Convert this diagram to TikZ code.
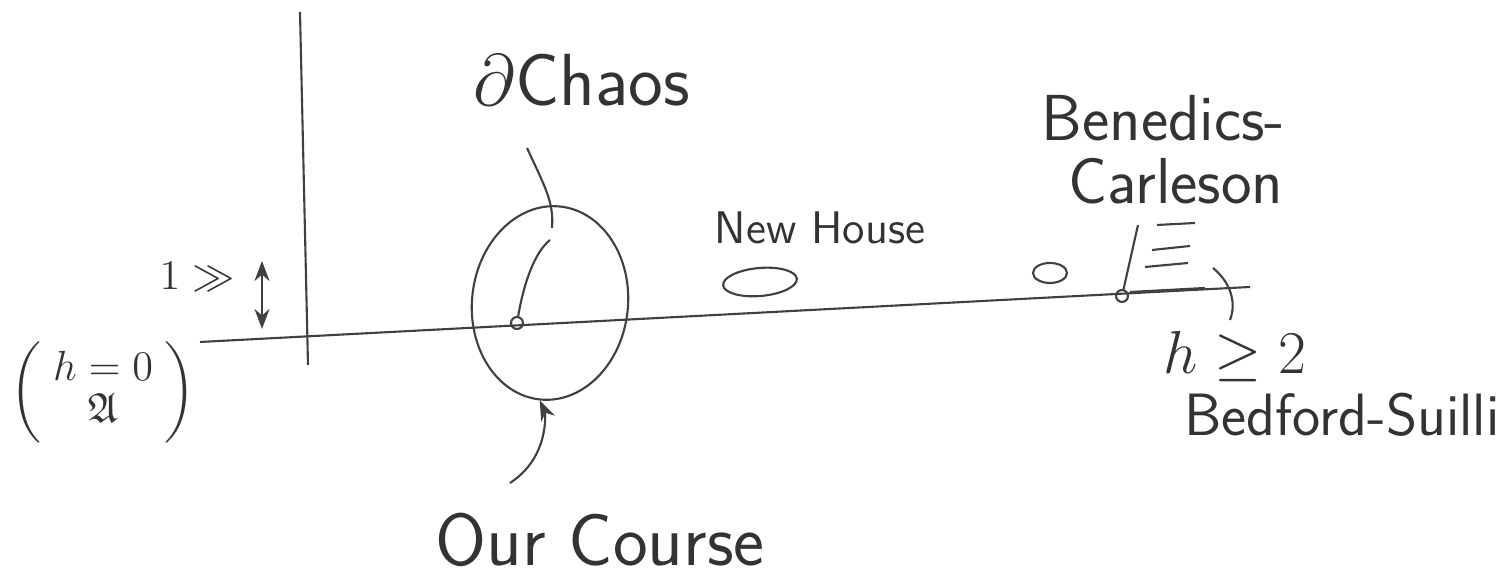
\documentclass[tikz,border=0pt]{standalone}
\usepackage{amsmath,amssymb}
\usetikzlibrary{arrows.meta,shapes.geometric}

\begin{document}
\begin{tikzpicture}[x=1cm,y=1cm,>=Stealth,
  pen/.style={line width=0.6pt,black!75},
  every node/.append style={font=\sffamily,text=black!80}]
  \useasboundingbox (0,0) rectangle (15.09,5.87);
  % axes
  \coordinate (vtop) at (3.00,5.75);
  \coordinate (vbot) at (3.08,2.22);
  \draw[pen] (vtop) -- (vbot);
  \coordinate (hleft) at (2.00,2.45);
  \coordinate (hright) at (12.50,3.00);
  \draw[pen] (hleft) -- (hright);

  \node[inner sep=0pt] (scaleLbl) at (1.97,3.10) {\large$1\gg$};
  \coordinate (scaleTop) at (2.62,3.26);
  \coordinate (scaleBot) at (2.62,2.58);
  \draw[pen,<->] (scaleTop) -- (scaleBot);

  \node[inner sep=0pt] (baseLbl) at (1.03,1.95) {\large$\left(\begin{matrix}\;h=0\;\\[-2pt] \mathfrak{A}\end{matrix}\right)$};

  % the chaos boundary
  \node (chaosLbl) at (5.82,5.07) {\fontsize{21}{25}\selectfont$\partial$Chaos};
  \node[pen,draw,ellipse,minimum width=1.56cm,minimum height=1.94cm,rotate=-6,inner sep=0pt] (boundary) at (5.50,2.84) {};
  \coordinate (chaosTail) at (5.27,4.39);
  \coordinate (chaosTip) at (5.52,3.59);
  \draw[pen] (chaosTail) .. controls (5.45,4.00) and (5.54,3.85) .. (chaosTip);

  \node[pen,draw,circle,inner sep=1.2pt] (origin) at (5.17,2.64) {};
  \coordinate (originTop) at (5.50,3.47);
  \draw[pen] (origin) .. controls (5.24,3.05) and (5.35,3.35) .. (originTop);

  % our course
  \node (courseLbl) at (6.00,0.47) {\fontsize{21}{25}\selectfont Our Course};
  \coordinate (courseTail) at (5.10,1.04);
  \draw[pen,->] (courseTail) .. controls (5.50,1.30) and (5.45,1.75) .. (boundary.south);

  % new house
  \node (houseLbl) at (8.20,3.59) {\fontsize{13}{16}\selectfont New House};
  \node[pen,draw,ellipse,minimum width=0.74cm,minimum height=0.28cm,rotate=5,inner sep=0pt] (house) at (7.60,3.05) {};

  % Benedics-Carleson
  \node[anchor=base east,inner sep=0pt] (bcLbl) at (12.86,4.46) {\fontsize{18.5}{22}\selectfont Benedics-};
  \node[anchor=base east,inner sep=0pt] (bcLbl2) at (12.84,3.83) {\fontsize{18.5}{22}\selectfont Carleson};
  \node[pen,draw,ellipse,minimum width=0.34cm,minimum height=0.20cm,inner sep=0pt] (bcBlob) at (10.50,3.14) {};
  \node[pen,draw,circle,inner sep=1.2pt] (bcDot) at (11.22,2.91) {};
  \coordinate (bcTop) at (11.38,3.62);
  \draw[pen] (bcDot) -- (bcTop);
  \foreach \xa/\ya/\xb/\yb in {11.57/3.62/11.95/3.64, 11.52/3.37/11.90/3.41,
      11.45/3.20/11.88/3.24, 11.30/2.95/12.05/2.99}
    \draw[pen] (\xa,\ya) -- (\xb,\yb);
  \draw[pen] (12.13,3.19) .. controls (12.30,3.05) and (12.37,2.85) .. (12.30,2.67);

  % Bedford-Suilli
  \node (hLbl) at (12.35,2.30) {\fontsize{16}{19}\selectfont$h\geq 2$};
  \node[anchor=west] (bsLbl) at (11.72,1.72) {\fontsize{17}{20}\selectfont Bedford-Suilli};
\end{tikzpicture}
\end{document}
